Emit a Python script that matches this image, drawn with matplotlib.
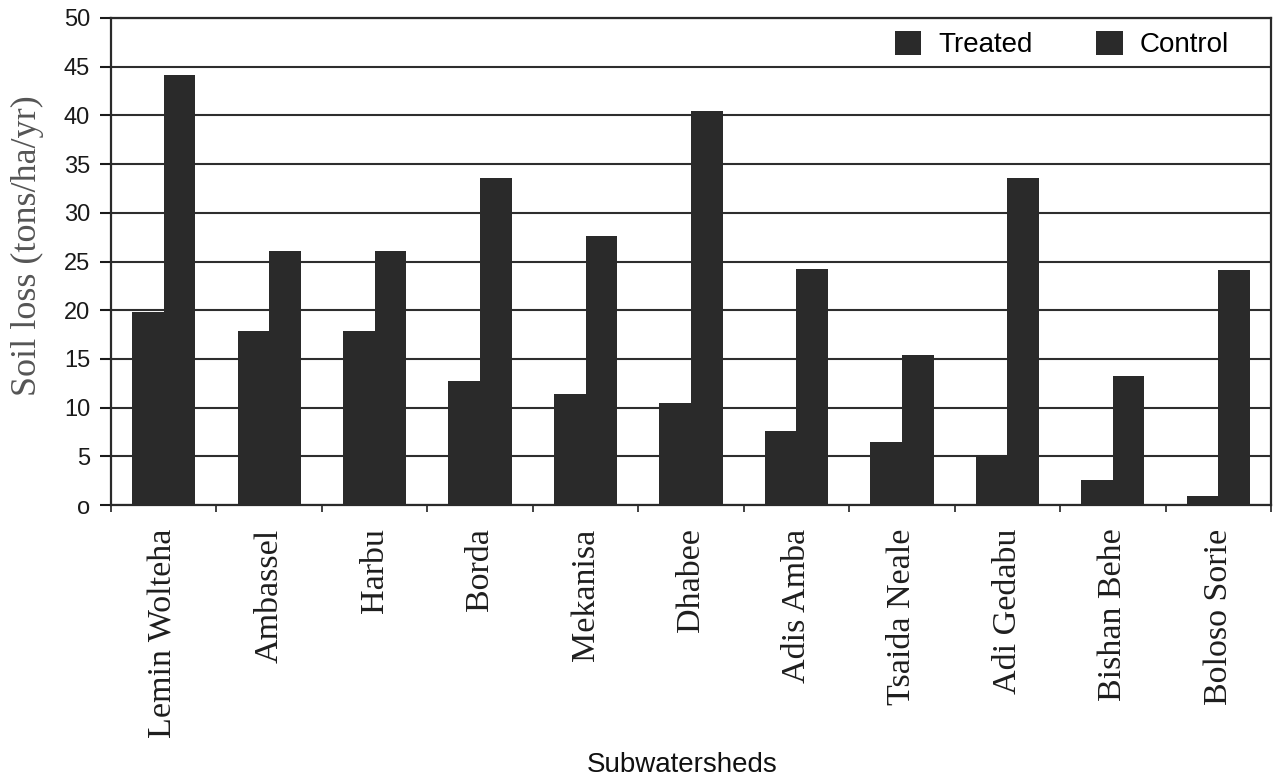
import matplotlib
matplotlib.use("Agg")
import matplotlib.pyplot as plt
import numpy as np
from matplotlib.ticker import FixedLocator

subwatersheds = ["Lemin Wolteha", "Ambassel", "Harbu", "Borda", "Mekanisa", "Dhabee",
                 "Adis Amba", "Tsaida Neale", "Adi Gedabu", "Bishan Behe", "Boloso Sorie"]
treated = [19.8, 17.9, 17.9, 12.7, 11.4, 10.5, 7.6, 6.5, 5.1, 2.6, 0.9]
control = [44.1, 26.1, 26.1, 33.6, 27.6, 40.5, 24.2, 15.4, 33.6, 13.2, 24.1]
y_ticks = [0, 5, 10, 15, 20, 25, 30, 35, 40, 45, 50]
y_tick_labels = ["o", "5", "10", "15", "20", "25", "30", "35", "40", "45", "50"]

W, H = 1276, 781
fig = plt.figure(figsize=(W / 100, H / 100), dpi=100)
ax = fig.add_axes([111 / W, 1 - 505 / H, (1271 - 111) / W, (505 - 18) / H])

x = np.arange(len(subwatersheds))
bw = 0.3
bar_color = "#2a2a2a"
ax.bar(x - bw / 2, treated, width=bw, color=bar_color, label="Treated", zorder=3)
ax.bar(x + bw / 2, control, width=bw, color=bar_color, label="Control", zorder=3)

ax.set_xlim(-0.5, len(subwatersheds) - 0.5)
ax.set_ylim(0, 50)

ax.set_yticks(y_ticks)
ax.set_yticklabels(y_tick_labels, fontfamily="Liberation Sans", fontsize=17)
ax.yaxis.grid(True, color="#2e2e2e", linewidth=1.5, zorder=1)
ax.tick_params(axis="y", direction="out", length=8, width=1.5, pad=7, colors="#1a1a1a")

ax.set_xticks(x)
ax.set_xticklabels(subwatersheds, rotation=90, fontfamily="Liberation Serif",
                   fontsize=24.5, color="#1e1e1e")
ax.tick_params(axis="x", which="major", length=0, pad=17)
ax.xaxis.set_minor_locator(FixedLocator(np.arange(-0.5, len(subwatersheds), 1.0)))
ax.tick_params(axis="x", which="minor", direction="out", length=5, width=1.3, colors="#333333")

for s in ax.spines.values():
    s.set_color("#2a2a2a")
    s.set_linewidth(1.6)

ax.set_ylabel("Soil loss (tons/ha/yr)", fontfamily="Liberation Serif", fontsize=26,
              color="#555555")
ax.yaxis.set_label_coords(-0.058, 0.532)

fig.text(682 / W, 1 - 765 / H, "Subwatersheds", fontfamily="Liberation Sans",
         fontsize=20, ha="center", va="center", color="#111111")

leg = ax.legend(loc="upper right", ncol=2, frameon=False,
                prop={"family": "Liberation Sans", "size": 20},
                handlelength=0.95, handleheight=0.95, handletextpad=0.6,
                columnspacing=2.3, bbox_to_anchor=(0.985, 1.025))

fig.savefig("out.png", dpi=100, facecolor="white")
